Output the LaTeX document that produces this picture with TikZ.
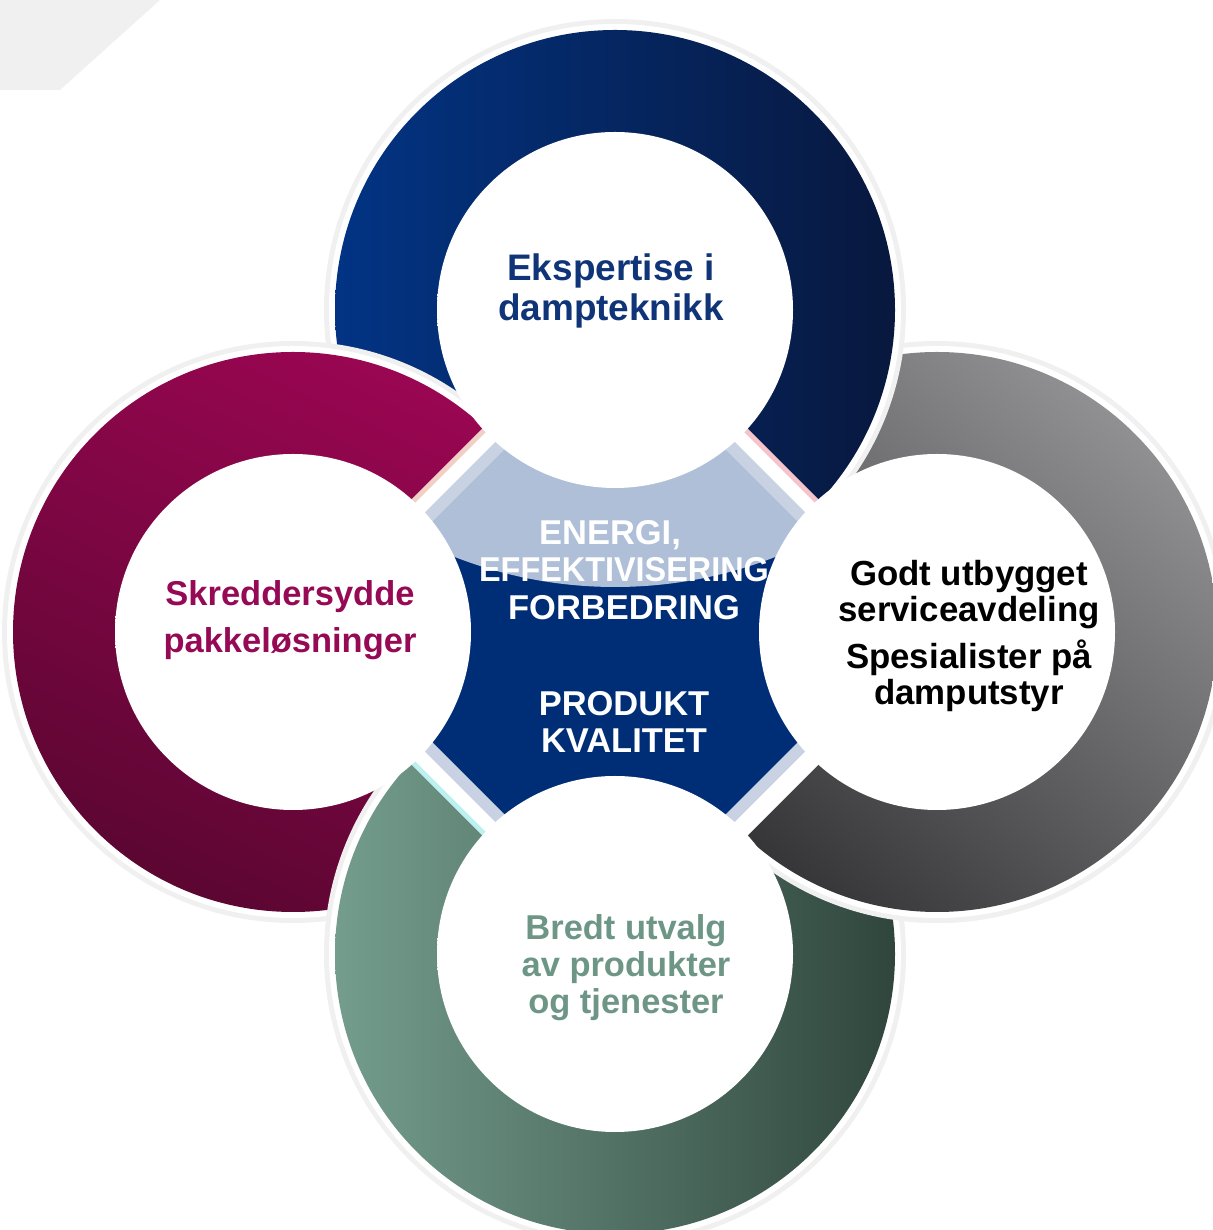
\documentclass[tikz,border=0pt]{standalone}
\usepackage{fontspec}
\setmainfont{Liberation Sans}
\usepackage{graphicx}
\usepackage{tikz}
\definecolor{ring blue}{RGB}{2,52,132}
\definecolor{ring blue dark}{RGB}{8,24,62}
\definecolor{ring plum}{RGB}{154,6,82}
\definecolor{ring plum dark}{RGB}{92,6,50}
\definecolor{ring grey}{RGB}{144,144,146}
\definecolor{ring grey dark}{RGB}{54,54,56}
\definecolor{ring sage}{RGB}{116,157,141}
\definecolor{ring sage dark}{RGB}{48,70,61}
\definecolor{core blue}{RGB}{0,46,118}
\definecolor{core gloss}{RGB}{174,191,215}
\definecolor{band back}{RGB}{200,210,226}
\definecolor{band peach}{RGB}{240,208,198}
\definecolor{band pink}{RGB}{244,196,202}
\definecolor{band cyan}{RGB}{190,240,240}
\definecolor{text blue}{RGB}{16,52,120}
\definecolor{text plum}{RGB}{150,10,85}
\definecolor{text sage}{RGB}{110,150,135}
\pgfdeclareradialshading{discglow}{\pgfpoint{0bp}{5bp}}{color(0bp)=(white); color(27bp)=(white); color(39bp)=(black!6); color(46bp)=(black!15); color(50bp)=(black!28)}
% one ring disc with its pale rim
\newcommand{\ringdisc}[2]{%
	\fill[rim] (#1) circle (291);
	\fill[white] (#1) circle (286);
	\shade[#2] (#1) circle (280);}

\begin{document}
\begin{tikzpicture}[x=0.01cm, y=0.01cm,
		rim/.style={fill=black!6},
		disc/.style={shading=discglow},
		ringtext/.style={font=\fontsize{9.8}{11.4}\selectfont\bfseries, align=center},
		grey ring/.style={top color=ring grey, bottom color=ring grey dark, shading angle=-40}]
	\useasboundingbox (0,0) rectangle (1213,1230);
	\clip (0,0) rectangle (1213,1230);
	% corner haze
	\fill[black!6] (0,1230) -- (160,1230) -- (60,1140) -- (0,1140) -- cycle;
	% centres
	\coordinate (ctop) at (615,920);
	\coordinate (cleft) at (293,598);
	\coordinate (cright) at (937,598);
	\coordinate (cbottom) at (615,276);
	\coordinate (dtop) at (615,915);
	\coordinate (dright) at (932,598);
	\coordinate (dbottom) at (615,281);
	\coordinate (dleft) at (298,598);
	% rings, each one over the next
	\ringdisc{cright}{grey ring}
	\ringdisc{ctop}{left color=ring blue, right color=ring blue dark}
	\ringdisc{cleft}{top color=ring plum, bottom color=ring plum dark, shading angle=-25}
	\ringdisc{cbottom}{left color=ring sage, right color=ring sage dark}
	% grey again over the green
	\begin{scope}
		\clip (615,0) rectangle (1213,598);
		\ringdisc{cright}{grey ring}
	\end{scope}
	% core
	\fill[core blue] (dtop) -- (dright) -- (dbottom) -- (dleft) -- cycle;
	\begin{scope}
		\clip (dtop) -- (dright) -- (dbottom) -- (dleft) -- cycle;
		\fill[core gloss] (615,1084) circle (441);
	\end{scope}
	% bands
	\foreach \p/\q/\sx/\sy/\tint in {dleft/dtop/-1/1/band peach, dtop/dright/1/1/band pink,
			dleft/dbottom/-1/-1/band cyan, dbottom/dright/1/-1/white}{
		\draw[line width=0.26cm, band back] ([shift={({-2.8*(\sx)},{-2.8*(\sy)})}]\p) -- ([shift={({-2.8*(\sx)},{-2.8*(\sy)})}]\q);
		\draw[line width=0.15cm, white] ([shift={({1.8*(\sx)},{1.8*(\sy)})}]\p) -- ([shift={({1.8*(\sx)},{1.8*(\sy)})}]\q);
		\draw[line width=0.05cm, \tint] ([shift={({7.8*(\sx)},{7.8*(\sy)})}]\p) -- ([shift={({7.8*(\sx)},{7.8*(\sy)})}]\q);
	}
	% inner discs
	\foreach \c in {ctop, cleft, cright, cbottom}
		\shade[disc] (\c) circle (178);
	% texts
	\node[ringtext, text=text blue, font=\fontsize{10.5}{11.4}\selectfont\bfseries] (expertise) at (611,939) {Ekspertise i\\dampteknikk};
	\node[ringtext, text=text plum, font=\fontsize{9.8}{13.4}\selectfont\bfseries] (packages) at (290,610) {Skreddersydde\\pakkeløsninger};
	\node[ringtext, text=black, font=\fontsize{9.9}{10.3}\selectfont\bfseries] (service) at (969,594) {Godt utbygget\\serviceavdeling\\[2.8pt]Spesialister på\\damputstyr};
	\node[ringtext, text=text sage, font=\fontsize{9.8}{10.5}\selectfont\bfseries] (range) at (626,262) {Bredt utvalg\\av produkter\\og tjenester};
	\node[ringtext, text=white, font=\fontsize{9.8}{10.7}\selectfont\bfseries] (energy) at (624,660) {ENERGI,\hspace*{0.28cm}\\\scalebox{0.94}[1]{EFFEKTIVISERING}\\FORBEDRING};
	\node[ringtext, text=white, font=\fontsize{9.8}{10.7}\selectfont\bfseries] (quality) at (624,508) {PRODUKT\\KVALITET};
\end{tikzpicture}
\end{document}
